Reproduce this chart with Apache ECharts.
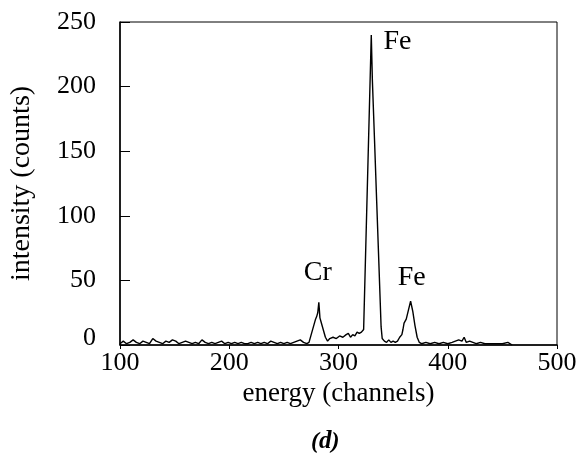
<!DOCTYPE html>
<html>
<head>
<meta charset="utf-8">
<script src="https://cdn.jsdelivr.net/npm/echarts@6/dist/echarts.min.js"></script>
<style>
html, body { margin: 0; padding: 0; background: #fff; }
#chart { width: 585px; height: 453px; }
</style>
</head>
<body>
<div id="chart"></div>
<script>
// spectrum (channel, counts)
var channels = [100,103,106,109,112,115,118,121,124,127,130,133,136,139,142,145,148,151,154,157,
  160,163,166,169,172,175,178,181,184,187,190,193,196,199,202,205,208,211,214,217,
  220,223,226,229,232,235,238,241,244,247,250,253,256,259,262,265,268,271,
  273,275,277,279,280,281,282,283,284,286,288,290,292,295,298,301,304,307,309,311,313,315,317,319,321,
  323,325,327,329,330,331,333,335,337,339,340,342,344,346,348,350,352,354,
  356,358,359,360,361,362,364,366,367,368,370,372,374,376,
  380,384,388,392,396,400,404,407,410,413,415,417,420,423,426,430,434,438,442,446,450,455,459];
var counts = [1,3,1,2,4,2,1,3,2,1,5,3,2,1,3,2,4,3,1,2,
  3,2,1,2,1,4,2,1,2,1,2,3,1,2,1,2,1,2,1,1,
  2,1,2,1,2,1,3,2,1,2,1,2,1,2,3,4,2,1,
  2,8,14,20,22,25,33,21,18,12,6,3,5,6,5,7,6,8,9,6,8,7,10,9,10,
  12,77,142,207,240,205,158,110,62,14,5,3,2,4,2,3,2,3,
  6,8,12,17,16,20,27,34,30,26,15,6,2,1,
  2,1,2,1,2,1,2,3,4,3,6,2,3,2,1,2,1,1,1,1,1,2,0];

var peakNames = ['Fe', 'Cr', 'Fe'];
var peakX = [354, 281, 367];
var peakY = [235, 56, 52];

var yTicks = [0, 50, 100, 150, 200, 250];
var xTicks = [100, 200, 300, 400, 500];

var myChart = echarts.init(document.getElementById('chart'));
var serif = '"Liberation Serif", "Times New Roman", serif';

var data = [];
for (var i = 0; i < channels.length; i++) {
    data.push([channels[i], counts[i]]);
}

var marks = [];
for (var j = 0; j < peakNames.length; j++) {
    marks.push({
        coord: [peakX[j], peakY[j]],
        symbolSize: 0,
        label: {
            show: true,
            position: 'inside',
            formatter: peakNames[j],
            fontFamily: serif,
            fontSize: 28,
            color: '#000'
        }
    });
}

var option = {
    animation: false,
    backgroundColor: '#fff',
    title: {
        text: '{p|(}{d|d}{p|)}',
        left: 306,
        top: 424,
        textStyle: {
            rich: {
                p: { fontFamily: serif, fontSize: 24, fontStyle: 'italic', color: '#000' },
                d: { fontFamily: serif, fontSize: 25, fontStyle: 'italic', fontWeight: 'bold', color: '#000' }
            }
        }
    },
    grid: {
        show: true,
        left: 116,
        right: 28,
        top: 22,
        bottom: 108,
        borderColor: '#000',
        borderWidth: 1
    },
    xAxis: {
        type: 'value',
        min: xTicks[0],
        max: xTicks[xTicks.length - 1],
        interval: 100,
        name: 'energy (channels)',
        nameLocation: 'middle',
        nameGap: 31,
        nameTextStyle: { fontFamily: serif, fontSize: 27, color: '#000' },
        axisLine: { lineStyle: { color: '#000', width: 1.5 } },
        axisTick: { show: true, inside: false, length: 4, lineStyle: { color: '#000' } },
        axisLabel: {
            fontFamily: serif, fontSize: 26, color: '#000', margin: 5
        },
        splitLine: { show: false }
    },
    yAxis: {
        type: 'value',
        min: yTicks[0],
        max: yTicks[yTicks.length - 1],
        interval: 50,
        name: 'intensity (counts)',
        nameLocation: 'middle',
        nameGap: 84,
        nameTextStyle: { fontFamily: serif, fontSize: 28, color: '#000' },
        axisLine: { show: true, lineStyle: { color: '#000', width: 1.5 } },
        axisTick: { show: true, inside: true, length: 10, lineStyle: { color: '#000' } },
        axisLabel: {
            fontFamily: serif, fontSize: 26, color: '#000', margin: 24,
            formatter: function (v) {
                return v === 0 ? '{z|0}' : v;
            },
            rich: {
                z: { fontFamily: serif, fontSize: 26, color: '#000', padding: [0, 0, 14, 0] }
            }
        },
        splitLine: { show: false }
    },
    series: [{
        type: 'line',
        data: data,
        showSymbol: false,
        symbol: 'none',
        lineStyle: { color: '#000', width: 1.4 },
        markPoint: {
            symbol: 'circle',
            symbolSize: 0,
            data: marks
        }
    }]
};

myChart.setOption(option);
</script>
</body>
</html>
